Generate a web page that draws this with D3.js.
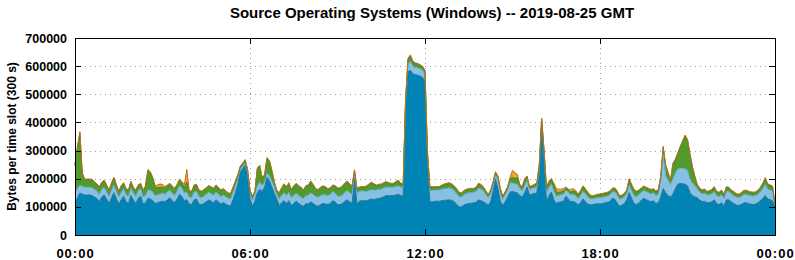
<!DOCTYPE html>
<meta charset="utf-8">
<script src="https://d3js.org/d3.v7.min.js"></script>
<style>
body { margin: 0; background: #fff; }
.title { font: bold 15px "Liberation Sans", Arial, sans-serif; }
.axis text { font: bold 12.5px "Liberation Sans", Arial, sans-serif; fill: #000; }
.xaxis text { font-size: 13px; letter-spacing: 1px; }
.axis line { stroke: #000; shape-rendering: crispEdges; }
.axis path { display: none; }
.grid line { stroke: #a0a0a0; stroke-dasharray: 1,4; shape-rendering: crispEdges; }
.ylabel { font: bold 12px "Liberation Sans", Arial, sans-serif; }
</style>
<div id="plot"></div>
<script>

// values in thousands of bytes, one per 5 minute slot (00:00 .. 24:00)
var darkBlue = [
  113,131,149,145,142,142,142,140,135,130,118,135,
  142,128,112,132,150,130,110,125,138,118,112,140,
  125,112,130,138,110,115,130,128,122,112,115,118,
  120,118,125,132,122,115,128,145,137,122,125,110,
  108,125,128,110,108,112,118,124,120,114,125,118,
  110,115,110,105,103,125,150,180,225,236,248,215,
  129,102,120,150,162,155,170,205,192,170,148,128,
  105,115,122,112,122,105,112,120,113,106,102,112,
  110,118,112,105,102,108,112,110,108,112,122,118,
  108,108,112,120,125,118,112,200,112,120,122,122,
  122,125,128,126,128,130,132,136,140,140,140,140,
  142,145,140,138,455,580,585,572,570,568,565,560,
  545,265,118,118,120,120,120,122,123,124,125,123,
  118,110,100,100,106,110,112,113,114,116,125,122,
  118,112,106,118,155,198,165,120,105,118,135,152,
  155,152,150,140,135,150,170,142,145,148,148,215,
  395,275,118,140,152,125,113,116,118,120,138,128,
  118,120,115,107,115,128,118,110,107,108,110,112,
  110,112,114,116,118,130,128,115,102,106,112,125,
  150,130,112,108,115,124,130,126,122,118,122,112,
  115,135,165,150,140,135,145,165,180,183,182,180,
  175,150,140,136,132,125,118,120,115,115,118,125,
  112,108,115,104,125,125,118,112,107,105,108,113,
  115,112,110,108,110,115,122,130,140,128,125,122,
  100
];

var lightBlue = [
  38,35,28,28,28,28,28,28,27,27,26,28,
  27,26,25,27,28,27,25,26,27,25,26,27,
  26,25,27,27,25,26,30,32,30,28,28,28,
  28,27,28,28,27,26,28,30,29,28,28,25,
  26,28,28,26,25,26,27,28,27,27,28,27,
  27,27,26,25,25,26,25,20,8,8,8,8,
  20,22,25,25,25,22,18,15,18,22,24,17,
  24,26,28,28,30,27,28,28,28,28,27,28,
  32,32,32,32,32,32,32,32,32,32,32,32,
  30,30,30,32,33,32,32,20,36,35,35,34,
  33,33,33,33,32,32,31,31,31,30,30,30,
  30,30,30,30,12,28,33,28,25,26,25,26,
  25,20,40,40,40,40,40,41,42,42,43,42,
  40,38,36,35,37,38,38,38,38,39,42,41,
  40,33,27,30,25,18,30,32,22,25,25,35,
  30,30,30,25,22,25,25,20,20,20,22,18,
  12,15,30,30,30,32,25,25,25,25,22,24,
  25,25,25,22,25,28,28,26,22,20,20,21,
  22,22,22,22,24,23,26,28,25,24,24,22,
  28,28,28,28,28,28,28,28,28,28,28,28,
  30,60,140,60,55,45,55,55,55,55,55,55,
  55,50,45,40,32,28,28,28,27,28,28,30,
  28,28,28,26,30,30,28,28,28,27,28,30,
  30,30,30,30,30,30,32,35,40,35,35,35,
  8
];

var green = [
  95,145,187,45,26,27,27,28,26,23,26,23,
  24,22,21,24,25,21,19,22,19,20,20,22,
  17,21,19,17,23,31,69,60,49,31,25,23,
  22,21,21,20,23,22,21,20,19,16,35,18,
  19,22,21,21,20,21,20,21,22,22,22,22,
  20,20,19,17,17,16,14,12,9,9,9,9,
  8,11,7,60,58,25,24,52,52,35,15,12,
  18,24,29,29,31,27,32,33,32,33,28,33,
  33,39,33,25,25,27,28,27,22,21,21,23,
  27,27,30,30,31,29,28,9,16,13,12,13,
  17,21,24,20,15,15,16,16,16,13,11,11,
  15,17,12,11,10,17,19,15,14,13,12,11,
  12,12,11,11,9,9,10,12,14,15,15,14,
  14,14,13,12,12,12,12,12,11,12,14,14,
  11,10,8,9,7,6,12,10,8,9,9,13,
  20,18,25,12,12,22,12,7,8,9,12,14,
  5,7,19,19,15,20,15,10,10,12,6,8,
  9,12,13,13,15,16,16,13,10,9,9,9,
  11,11,11,11,11,10,11,12,10,9,9,10,
  19,19,19,17,14,13,13,13,13,13,12,13,
  14,12,7,37,25,12,52,47,54,74,95,117,
  107,87,57,31,13,12,11,13,10,12,13,14,
  12,13,14,12,14,12,11,12,10,10,11,12,
  12,11,11,11,11,12,13,17,21,16,15,14,
  2
];

var orange = [
  3,3,3,3,2,2,2,2,2,2,2,2,
  2,2,2,2,2,2,2,2,2,2,2,2,
  2,2,2,2,2,3,4,5,4,4,10,12,
  10,6,4,4,3,3,3,3,5,12,45,5,
  3,3,3,3,3,3,3,3,3,3,3,3,
  3,3,3,3,3,3,3,3,3,3,3,3,
  3,3,3,3,3,3,3,3,3,3,3,3,
  3,3,3,3,3,3,3,3,3,3,3,3,
  3,3,3,3,3,3,3,3,3,3,3,3,
  3,3,3,3,3,3,3,3,3,3,3,3,
  3,3,3,3,3,3,3,3,3,3,3,3,
  3,3,3,3,3,3,3,3,3,3,3,3,
  3,3,3,3,3,3,3,3,3,3,3,3,
  3,3,3,3,3,3,3,3,3,3,3,3,
  3,3,3,3,3,3,3,3,3,3,3,5,
  25,22,10,3,3,3,3,3,3,3,3,3,
  3,3,3,3,4,8,12,12,10,8,5,3,
  10,8,5,3,3,3,3,3,3,3,3,3,
  3,3,3,3,3,3,3,3,3,3,3,3,
  3,3,3,3,3,3,3,3,3,3,3,3,
  3,3,3,3,3,3,3,3,3,3,3,3,
  3,3,3,3,3,3,3,3,3,3,3,3,
  3,3,3,3,3,3,3,3,3,3,3,3,
  3,3,3,3,3,3,3,3,3,3,3,3,
  1
];

var timeTicks = [0, 360, 720, 1080, 1440];
var timeLabels = ["00:00", "06:00", "12:00", "18:00", "00:00"];
var byteTicks = [0, 100000, 200000, 300000, 400000, 500000, 600000, 700000];

var keys = ["dark", "light", "green", "orange"];
var fills = {dark: "#0083b5", light: "#86c1e3", green: "#4f9b2c", orange: "#f2a12a"};
var strokes = {dark: "#2c6f8f", light: "#6aa6c8", green: "#3f7f24", orange: "#b8741c"};

var table = darkBlue.map(function(v, i) {
	return {minute: i * 5, dark: v * 1000, light: lightBlue[i] * 1000,
		green: green[i] * 1000, orange: orange[i] * 1000};
});

var margin = {top: 38, right: 20, bottom: 25, left: 75},
	width = 795, height = 260;

var x = d3.scaleLinear().domain([0, 1440]).range([margin.left, width - margin.right]);
var y = d3.scaleLinear().domain([0, 700000]).range([height - margin.bottom, margin.top]);

var svg = d3.select("#plot").append("svg")
	.attr("width", width)
	.attr("height", height);

// grid
var grid = svg.append("g").attr("class", "grid");
grid.selectAll(".hg").data(byteTicks.slice(1, -1)).enter().append("line")
	.attr("x1", x(0)).attr("x2", x(1440))
	.attr("y1", function(d) { return Math.round(y(d)) + 0.5; })
	.attr("y2", function(d) { return Math.round(y(d)) + 0.5; });
grid.selectAll(".vg").data(timeTicks.slice(1, -1)).enter().append("line")
	.attr("y1", y(700000)).attr("y2", y(0))
	.attr("x1", function(d) { return Math.round(x(d)) + 0.5; })
	.attr("x2", function(d) { return Math.round(x(d)) + 0.5; });

var stacked = d3.stack().keys(keys)(table);

var area = d3.area()
	.x(function(d) { return x(d.data.minute); })
	.y0(function(d) { return y(d[0]); })
	.y1(function(d) { return y(d[1]); });

var topLine = d3.line()
	.x(function(d) { return x(d.data.minute); })
	.y(function(d) { return y(d[1]); });

svg.append("g").selectAll("path").data(stacked).enter().append("path")
	.attr("fill", function(d) { return fills[d.key]; })
	.attr("d", area);

svg.append("g").selectAll("path").data(stacked).enter().append("path")
	.attr("fill", "none")
	.attr("stroke", function(d) { return strokes[d.key]; })
	.attr("stroke-width", 1)
	.attr("d", topLine);

// axes with inward ticks
svg.append("g")
	.attr("class", "axis")
	.attr("transform", "translate(" + x(0) + ",0)")
	.call(d3.axisLeft(y).tickValues(byteTicks).tickSize(-6).tickPadding(8).tickFormat(d3.format("d")));

svg.append("g")
	.attr("class", "axis")
	.attr("transform", "translate(" + x(1440) + ",0)")
	.call(d3.axisRight(y).tickValues(byteTicks).tickSize(-6).tickFormat(""));

svg.append("g")
	.attr("class", "axis xaxis")
	.attr("transform", "translate(0," + y(0) + ")")
	.call(d3.axisBottom(x).tickValues(timeTicks).tickSize(-6).tickPadding(14)
		.tickFormat(function(d, i) { return timeLabels[i]; }));

svg.append("g")
	.attr("class", "axis")
	.attr("transform", "translate(0," + y(700000) + ")")
	.call(d3.axisTop(x).tickValues(timeTicks).tickSize(-6).tickFormat(""));

// frame
svg.append("rect")
	.attr("x", x(0) + 0.5).attr("y", y(700000) + 0.5)
	.attr("width", x(1440) - x(0)).attr("height", y(0) - y(700000))
	.attr("fill", "none").attr("stroke", "#000");

svg.append("text")
	.attr("class", "title")
	.attr("x", 432).attr("y", 18)
	.style("text-anchor", "middle")
	.text("Source Operating Systems (Windows) -- 2019-08-25 GMT");

svg.append("text")
	.attr("class", "ylabel")
	.attr("transform", "translate(16," + ((y(0) + y(700000)) / 2) + ") rotate(-90)")
	.style("text-anchor", "middle")
	.text("Bytes per time slot (300 s)");

</script>
